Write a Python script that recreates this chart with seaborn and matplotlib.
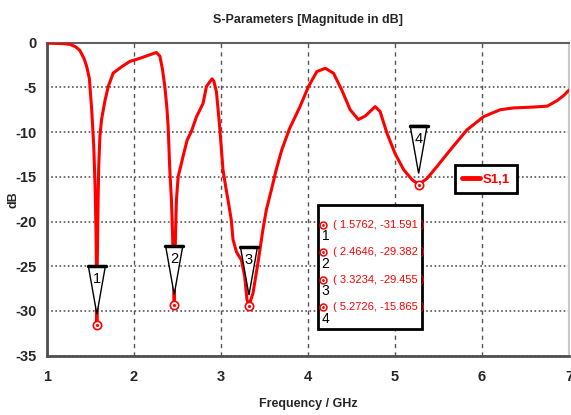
import matplotlib
matplotlib.use("Agg")
import matplotlib.pyplot as plt
import matplotlib.transforms as mtransforms
from matplotlib.patches import Polygon, Rectangle
from matplotlib.lines import Line2D
import seaborn as sns

# S1,1 magnitude
freq = [1.00, 1.10, 1.20, 1.27, 1.33, 1.38, 1.43, 1.46, 1.49, 1.517, 1.540,
        1.556, 1.566, 1.572, 1.5762, 1.580, 1.588, 1.597, 1.611, 1.63, 1.669,
        1.707, 1.764, 1.86, 1.955, 2.07, 2.18, 2.26, 2.30, 2.33, 2.357, 2.38,
        2.395, 2.414, 2.433, 2.446, 2.456, 2.4646, 2.472, 2.481, 2.49, 2.51,
        2.567, 2.613, 2.663, 2.72, 2.796, 2.835, 2.88, 2.90, 2.92, 2.95, 2.987,
        3.025, 3.056, 3.083, 3.12, 3.14, 3.18, 3.236, 3.274, 3.30, 3.3234, 3.37,
        3.427, 3.484, 3.523, 3.58, 3.637, 3.70, 3.79, 3.91, 4.007, 4.103, 4.20,
        4.295, 4.39, 4.486, 4.58, 4.66, 4.774, 4.83, 4.908, 5.00, 5.10, 5.195,
        5.2726, 5.368, 5.483, 5.636, 5.828, 6.02, 6.21, 6.36, 6.59, 6.75, 6.86,
        6.94, 7.00]
s11_db = [-0.05, -0.08, -0.12, -0.2, -0.45, -0.85, -1.8, -2.7, -4.0, -7.5,
          -11.5, -16.0, -21.0, -26.0, -31.591, -25.5, -19.0, -14.0, -10.5,
          -8.6, -6.5, -4.9, -3.4, -2.7, -2.1, -1.75, -1.37, -1.1, -1.5, -3.0,
          -4.9, -7.2, -9.4, -14.2, -17.6, -21.5, -25.5, -29.382, -25.0, -21.0,
          -17.6, -15.0, -12.7, -10.9, -9.9, -8.3, -6.8, -4.9, -4.3, -4.05, -4.3,
          -5.5, -9.4, -14.2, -16.1, -17.6, -19.8, -22.0, -23.4, -24.3, -26.1,
          -28.7, -29.455, -28.0, -24.6, -20.9, -18.7, -16.5, -14.2, -12.0,
          -9.6, -7.15, -4.9, -3.24, -2.86, -3.42, -5.3, -7.5, -8.6, -8.2,
          -7.15, -7.7, -10.1, -12.36, -14.2, -15.3, -15.865, -15.2, -13.85,
          -12.0, -9.75, -8.27, -7.5, -7.3, -7.2, -7.1, -6.5, -5.9, -5.3]

# markers
mk_freq = [1.5762, 2.4646, 3.3234, 5.2726]
mk_db = [-31.591, -29.382, -29.455, -15.865]
mk_names = ["1", "2", "3", "4"]

x_ticks = [1, 2, 3, 4, 5, 6, 7]
y_ticks = [0, -5, -10, -15, -20, -25, -30, -35]

sns.set_style("white")
plt.rcParams["font.family"] = ["Liberation Sans", "DejaVu Sans"]

fig = plt.figure(figsize=(5.71, 4.15), dpi=100)
ax = fig.add_axes([0.0818, 0.143, 0.9147, 0.7542])

sns.lineplot(x=freq, y=s11_db, ax=ax, color="#ff0000", linewidth=2.2,
             label="S1,1", zorder=3)

ax.set_xlim(1, 7)
ax.set_ylim(-35, 0)
ax.set_xticks(x_ticks)
ax.set_yticks(y_ticks)
ax.set_xticklabels([str(t) for t in x_ticks], fontsize=10.5, fontweight="bold")
ax.set_yticklabels([str(t) for t in y_ticks], fontsize=10.5, fontweight="bold")
ax.tick_params(direction="out", length=4, width=1.5, color="#505050", pad=3)
ax.tick_params(axis="x", pad=6)

ax.set_axisbelow(True)
ax.yaxis.grid(True, linestyle=(0, (1, 1.5)), color="#555555", linewidth=1.2)
ax.xaxis.grid(True, linestyle=(0, (3, 3)), color="#555555", linewidth=1.0)

for side in ["left", "bottom"]:
    ax.spines[side].set_color("#505050")
    ax.spines[side].set_linewidth(2)
ax.spines["top"].set_color("#606060")
ax.spines["top"].set_linewidth(1.5)
ax.spines["right"].set_color("#c8c8c8")
ax.spines["right"].set_linewidth(1.5)

ax.set_title("S-Parameters [Magnitude in dB]", fontsize=9, fontweight="bold",
             pad=14)
ax.set_xlabel("Frequency / GHz", fontsize=9, fontweight="bold")
ax.xaxis.set_label_coords(0.5, -0.135)
ax.set_ylabel("dB", fontsize=9, fontweight="bold")
ax.yaxis.set_label_coords(-0.052, 0.5)

# marker points
ax.plot(mk_freq, mk_db, "o", mfc="white", mec="#ff0000", ms=6, mew=1.2,
        zorder=5)
ax.plot(mk_freq, mk_db, ".", color="#ff0000", ms=2.5, zorder=6)

# triangle flags above each marker
for x, y, name in zip(mk_freq, mk_db, mk_names):
    tr = fig.dpi_scale_trans + mtransforms.ScaledTranslation(x, y, ax.transData)
    tri = Polygon([(0, 0.11), (-0.085, 0.59), (0.085, 0.59)], closed=True,
                  facecolor="white", edgecolor="black", linewidth=1,
                  transform=tr, zorder=7)
    ax.add_patch(tri)
    ax.add_line(Line2D([-0.09, 0.09], [0.59, 0.59], color="black",
                       linewidth=2.5, transform=tr, zorder=8))
    ax.text(0, 0.46, name, transform=tr, ha="center", va="center",
            fontsize=10.5, color="black", zorder=9)

# marker value table
ax.add_patch(Rectangle((0.519, 0.0853), 0.2, 0.396, transform=ax.transAxes,
                       facecolor="white", edgecolor="black", linewidth=2,
                       zorder=7))
row_y = [0.4176, 0.3304, 0.2418, 0.1546]
for ry, x, y, name in zip(row_y, mk_freq, mk_db, mk_names):
    ax.plot([0.5284], [ry], "o", mfc="white", mec="#ff0000", ms=5, mew=1.1,
            transform=ax.transAxes, zorder=8)
    ax.plot([0.5284], [ry], ".", color="#ff0000", ms=2, transform=ax.transAxes,
            zorder=9)
    ax.text(0.534, ry - 0.036, name, transform=ax.transAxes, ha="center",
            va="center", fontsize=10, color="black", zorder=9)
    ax.text(0.548, ry, f"( {x:.4f}, {y:.3f} )", transform=ax.transAxes,
            ha="left", va="center", fontsize=8, color="#ff0000", zorder=9)

leg = ax.legend(loc="center", bbox_to_anchor=(0.841, 0.563), frameon=True,
                fancybox=False, edgecolor="black", framealpha=1,
                handlelength=1.3, handletextpad=0.2, borderpad=0.6,
                borderaxespad=0, prop={"size": 9.5, "weight": "bold"})
leg.get_frame().set_linewidth(2)
for line in leg.get_lines():
    line.set_linewidth(3.5)
for t in leg.get_texts():
    t.set_color("#ff0000")
leg.set_zorder(10)

fig.savefig("out.png", dpi=100)
